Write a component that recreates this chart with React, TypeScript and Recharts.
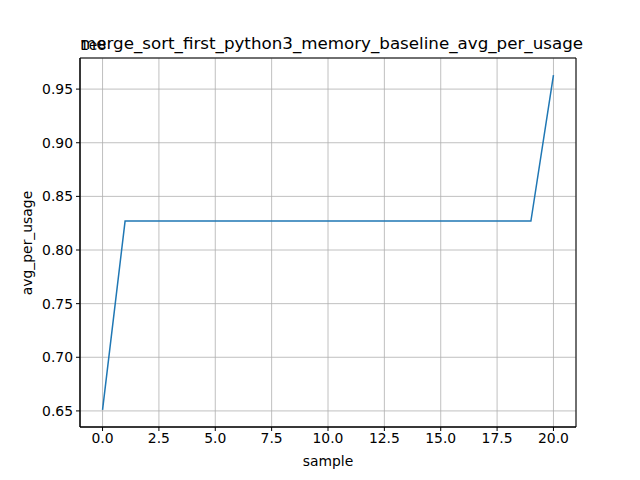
import { LineChart, Line, XAxis, YAxis, CartesianGrid, ReferenceArea } from "recharts";

const samples = [0, 1, 2, 3, 4, 5, 6, 7, 8, 9, 10, 11, 12, 13, 14, 15, 16, 17, 18, 19, 20];
const usage = [
	65100000, 82700000, 82700000, 82700000, 82700000, 82700000, 82700000, 82700000, 82700000,
	82700000, 82700000, 82700000, 82700000, 82700000, 82700000, 82700000, 82700000, 82700000,
	82700000, 82700000, 96300000,
];
const xTicks = [0, 2.5, 5, 7.5, 10, 12.5, 15, 17.5, 20];
const yTicks = [65000000, 70000000, 75000000, 80000000, 85000000, 90000000, 95000000];

const data = samples.map((s, i) => ({ sample: s, avg: usage[i] }));

const font = "DejaVu Sans, sans-serif";
const tickStyle = { fontSize: 13.9, fill: "#000", fontFamily: font };

const App = () => {
	return (
		<div style={{ position: "absolute", left: 0, top: 0, width: 640, height: 480, background: "#fff", fontFamily: font }}>
			<LineChart width={640} height={480} data={data} margin={{ top: 58, right: 64, bottom: 0, left: 0 }}>
				<CartesianGrid stroke="#b0b0b0" strokeWidth={0.8} />
				<XAxis
					dataKey="sample"
					type="number"
					domain={[-1, 21]}
					ticks={xTicks}
					allowDataOverflow
					tickFormatter={(v: number) => v.toFixed(1)}
					height={53}
					tick={tickStyle}
					tickSize={4}
					tickMargin={2}
					stroke="#000"
				/>
				<YAxis
					type="number"
					domain={[63500000, 97900000]}
					ticks={yTicks}
					allowDataOverflow
					tickFormatter={(v: number) => (v / 1e8).toFixed(2)}
					width={80}
					tick={tickStyle}
					tickSize={4}
					tickMargin={3}
					stroke="#000"
				/>
				<ReferenceArea x1={-1} x2={21} y1={63500000} y2={97900000} fill="none" stroke="#000" strokeWidth={1} ifOverflow="extendDomain" />
				<Line dataKey="avg" stroke="#1f77b4" strokeWidth={1.5} dot={false} isAnimationActive={false} />
			</LineChart>
			<div style={{ position: "absolute", left: 80, width: 496, top: 33, textAlign: "center", fontSize: 16.7, lineHeight: "20px" }}>
				merge_sort_first_python3_memory_baseline_avg_per_usage
			</div>
			<div style={{ position: "absolute", left: 80, top: 37, fontSize: 13.9, lineHeight: "16px" }}>1e8</div>
			<div style={{ position: "absolute", left: 80, width: 496, top: 453, textAlign: "center", fontSize: 13.9, lineHeight: "16px" }}>
				sample
			</div>
			<div
				style={{
					position: "absolute",
					left: 27,
					top: 243,
					fontSize: 13.9,
					lineHeight: "16px",
					whiteSpace: "nowrap",
					transform: "translate(-50%, -50%) rotate(-90deg)",
				}}
			>
				avg_per_usage
			</div>
		</div>
	);
};

export default App;
